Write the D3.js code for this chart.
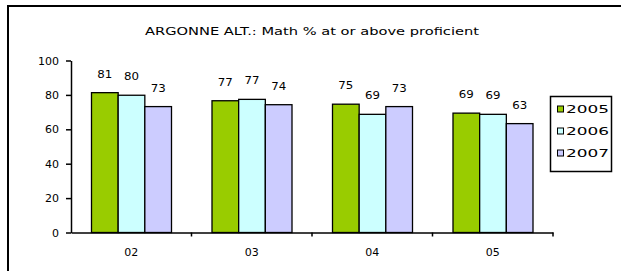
<!DOCTYPE html>
<html>
<head>
<meta charset="utf-8">
<script src="https://cdn.jsdelivr.net/npm/d3@7"></script>
<style>
  body { margin: 0; background: #fff; }
  svg { display: block; }
  text { font-family: "DejaVu Sans", Arial, sans-serif; fill: #000; }
</style>
</head>
<body>
<div id="chart"></div>
<script>
const title = "ARGONNE ALT.: Math % at or above proficient";
const grades = ["02", "03", "04", "05"];
const years = ["2005", "2006", "2007"];
const values2005 = [81.3, 76.6, 74.6, 69.4];
const values2006 = [79.8, 77.4, 68.7, 68.7];
const values2007 = [73.2, 74.3, 73.2, 63.3];
const yTicks = [0, 20, 40, 60, 80, 100];
const colors = ["#99cc00", "#ccffff", "#ccccff"];

const width = 621, height = 271;
const series = [values2005, values2006, values2007];

const svg = d3.select("#chart")
    .append("svg")
    .attr("width", width)
    .attr("height", height);

// outer chart frame (runs off the right and bottom)
svg.append("rect")
    .attr("x", 8)
    .attr("y", 6)
    .attr("width", 640)
    .attr("height", 300)
    .attr("fill", "#fff")
    .attr("stroke", "#000")
    .attr("stroke-width", 2);

svg.append("text")
    .attr("x", 312)
    .attr("y", 35)
    .attr("text-anchor", "middle")
    .attr("textLength", 334)
    .attr("lengthAdjust", "spacingAndGlyphs")
    .style("font-size", "11px")
    .text(title);

const x = d3.scaleBand()
    .domain(grades)
    .range([71, 553])
    .padding(0);

const xInner = d3.scaleBand()
    .domain(years)
    .range([20.5, 100.5])
    .padding(0);

const y = d3.scaleLinear()
    .domain([0, 100])
    .range([232.5, 60.5]);

// bars
const rows = [];
grades.forEach((g, i) => {
    years.forEach((yr, j) => {
        rows.push({ grade: g, year: yr, value: series[j][i], color: colors[j] });
    });
});

svg.selectAll(".bar")
    .data(rows)
    .enter()
    .append("rect")
    .attr("class", "bar")
    .attr("x", d => x(d.grade) + xInner(d.year))
    .attr("y", d => y(d.value))
    .attr("width", xInner.bandwidth())
    .attr("height", d => y(0) - y(d.value))
    .attr("fill", d => d.color)
    .attr("stroke", "#000")
    .attr("stroke-width", 1.3);

svg.selectAll(".label")
    .data(rows)
    .enter()
    .append("text")
    .attr("class", "label")
    .attr("x", d => x(d.grade) + xInner(d.year) + xInner.bandwidth() / 2)
    .attr("y", d => y(d.value) - 15)
    .attr("text-anchor", "middle")
    .attr("textLength", 15)
    .attr("lengthAdjust", "spacingAndGlyphs")
    .style("font-size", "11px")
    .text(d => Math.round(d.value));

// y axis
const yAxis = svg.append("g")
    .attr("transform", "translate(71,0)")
    .call(d3.axisLeft(y).tickValues(yTicks).tickSize(5).tickSizeOuter(0).tickPadding(7));
yAxis.select(".domain").attr("stroke", "#000").attr("stroke-width", 1.5);
yAxis.selectAll(".tick line").attr("stroke", "#000").attr("stroke-width", 1.5);
yAxis.selectAll("text")
    .style("font-size", "11px")
    .style("font-family", "DejaVu Sans, Arial, sans-serif");

// x axis: labels at band centers, ticks on band edges
const xAxis = svg.append("g")
    .attr("transform", `translate(0,${y(0)})`)
    .call(d3.axisBottom(x).tickSize(0).tickSizeOuter(0).tickPadding(16));
xAxis.select(".domain").attr("stroke", "#000").attr("stroke-width", 1.5);
xAxis.selectAll("text")
    .style("font-size", "11px")
    .style("font-family", "DejaVu Sans, Arial, sans-serif");

xAxis.selectAll(".edge")
    .data(grades.slice(1).concat(["end"]))
    .enter()
    .append("line")
    .attr("class", "edge")
    .attr("x1", d => d === "end" ? x.range()[1] : x(d))
    .attr("x2", d => d === "end" ? x.range()[1] : x(d))
    .attr("y1", 0)
    .attr("y2", 4)
    .attr("stroke", "#000")
    .attr("stroke-width", 1.5);

// legend
const legend = svg.append("g");
legend.append("rect")
    .attr("x", 550.5)
    .attr("y", 96.5)
    .attr("width", 61)
    .attr("height", 75)
    .attr("fill", "#fff")
    .attr("stroke", "#000")
    .attr("stroke-width", 1.5);

const items = legend.selectAll(".item")
    .data(years)
    .enter()
    .append("g")
    .attr("class", "item")
    .attr("transform", (d, i) => `translate(557,${109 + i * 22})`);

items.append("rect")
    .attr("x", 0.5)
    .attr("y", -3)
    .attr("width", 6)
    .attr("height", 6)
    .attr("fill", (d, i) => colors[i])
    .attr("stroke", "#000")
    .attr("stroke-width", 1);

items.append("text")
    .attr("x", 9)
    .attr("y", 4)
    .attr("textLength", 43)
    .attr("lengthAdjust", "spacingAndGlyphs")
    .style("font-size", "11px")
    .text(d => d);
</script>
</body>
</html>
